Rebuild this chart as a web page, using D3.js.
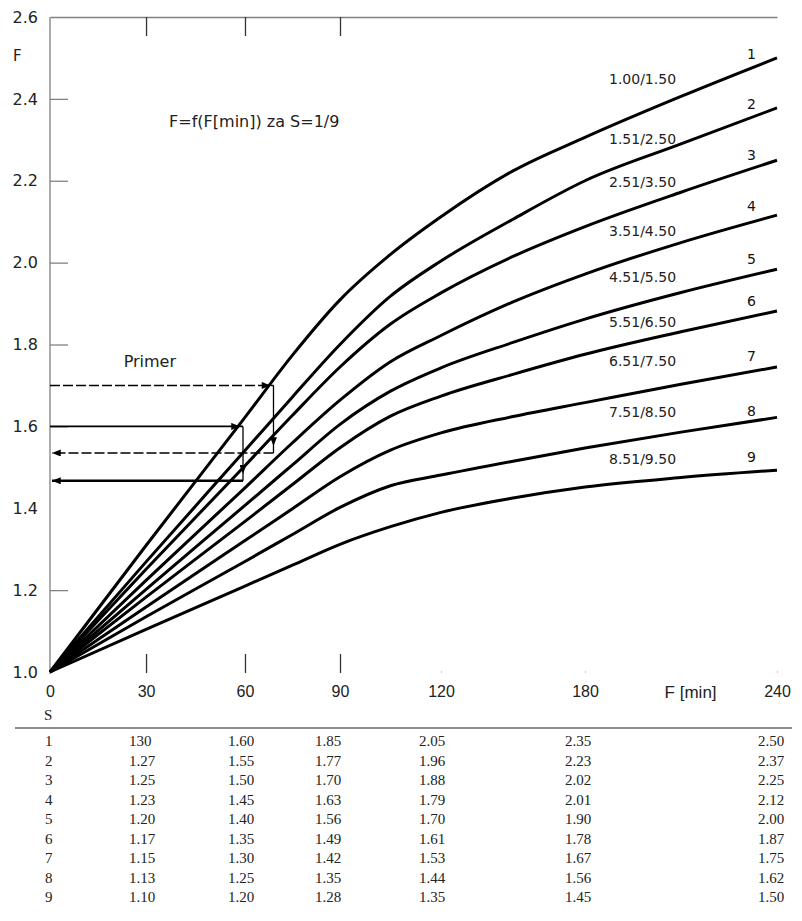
<!DOCTYPE html>
<html><head><meta charset="utf-8">
<script src="https://cdn.jsdelivr.net/npm/d3@7"></script>
<style>
body{margin:0;background:#fff}
svg{display:block}
</style></head><body>
<svg id="chart" width="802" height="921"></svg>
<script>
// ---------- data ----------
const minutes = [0, 30, 60, 75, 90, 105, 120, 150, 180, 210, 240];
const curve1 = [1.000, 1.309, 1.622, 1.774, 1.909, 2.020, 2.112, 2.224, 2.306, 2.406, 2.500];
const curve2 = [1.000, 1.269, 1.541, 1.672, 1.800, 1.918, 2.004, 2.106, 2.200, 2.290, 2.378];
const curve3 = [1.000, 1.251, 1.504, 1.627, 1.745, 1.850, 1.926, 2.015, 2.088, 2.172, 2.250];
const curve4 = [1.000, 1.224, 1.450, 1.560, 1.664, 1.758, 1.822, 1.904, 1.972, 2.049, 2.116];
const curve5 = [1.000, 1.202, 1.407, 1.506, 1.605, 1.686, 1.743, 1.805, 1.862, 1.927, 1.984];
const curve6 = [1.000, 1.183, 1.368, 1.458, 1.548, 1.625, 1.674, 1.727, 1.776, 1.831, 1.882];
const curve7 = [1.000, 1.159, 1.321, 1.399, 1.477, 1.542, 1.584, 1.624, 1.658, 1.703, 1.745];
const curve8 = [1.000, 1.135, 1.270, 1.336, 1.402, 1.455, 1.481, 1.515, 1.547, 1.586, 1.622];
const curve9 = [1.000, 1.104, 1.210, 1.261, 1.312, 1.355, 1.390, 1.425, 1.452, 1.475, 1.493];
const curves = [curve1, curve2, curve3, curve4, curve5, curve6, curve7, curve8, curve9];

const seriesIds = ["1", "2", "3", "4", "5", "6", "7", "8", "9"];
const seriesRanges = ["1.00/1.50", "1.51/2.50", "2.51/3.50", "3.51/4.50", "4.51/5.50",
                      "5.51/6.50", "6.51/7.50", "7.51/8.50", "8.51/9.50"];

const xTickValues = [0, 30, 60, 90, 120, 180, 240];
const xTickMarks = [30, 60, 90];
const xFaintMarks = [120, 180, 240];
const yTickValues = [1.0, 1.2, 1.4, 1.6, 1.8, 2.0, 2.2, 2.4, 2.6];
const yTickMarks = [1.2, 1.6, 1.8, 2.0, 2.2, 2.4];

const titleText = "F=f(F[min]) za S=1/9";
const yAxisTitle = "F";
const xAxisTitle = "F [min]";
const primerText = "Primer";
// Primer example: start F, time (min), resulting F
const primerDashed = [1.70, 69, 1.535];
const primerSolid = [1.60, 59.4, 1.467];

// table
const tableColumns = [30, 60, 90, 120, 180, 240];
const tableHeader = "S";
const tableRows = ["1", "2", "3", "4", "5", "6", "7", "8", "9"];
const table30  = ["130", "1.27", "1.25", "1.23", "1.20", "1.17", "1.15", "1.13", "1.10"];
const table60  = ["1.60", "1.55", "1.50", "1.45", "1.40", "1.35", "1.30", "1.25", "1.20"];
const table90  = ["1.85", "1.77", "1.70", "1.63", "1.56", "1.49", "1.42", "1.35", "1.28"];
const table120 = ["2.05", "1.96", "1.88", "1.79", "1.70", "1.61", "1.53", "1.44", "1.35"];
const table180 = ["2.35", "2.23", "2.02", "2.01", "1.90", "1.78", "1.67", "1.56", "1.45"];
const table240 = ["2.50", "2.37", "2.25", "2.12", "2.00", "1.87", "1.75", "1.62", "1.50"];
const tableValues = [table30, table60, table90, table120, table180, table240];

// ---------- layout ----------
const L = 50, R = 777, T = 17, B = 672;
const xStops = [0, 0.1321, 0.2682, 0.3989, 0.5378, 0.7359, 1];
const x = d3.scaleLinear().domain(xTickValues).range(xStops.map(f => L + f * (R - L)));
const y = d3.scaleLinear().domain([1.0, 2.6]).range([B, T]);

const sans = "'DejaVu Sans', sans-serif";
const sansX = "'Liberation Sans', Arial, sans-serif";
const serif = "'Liberation Serif', 'Times New Roman', serif";
const axisGray = "#808080";

const svg = d3.select("#chart");

// markers
const defs = svg.append("defs");
defs.append("marker").attr("id", "arr").attr("viewBox", "0 0 10 8")
  .attr("refX", 10).attr("refY", 4).attr("markerWidth", 11).attr("markerHeight", 7)
  .attr("markerUnits", "userSpaceOnUse").attr("orient", "auto")
  .append("path").attr("d", "M0,0 L10,4 L0,8 Z").attr("fill", "#000");

// ---------- axes ----------
const yAxis = svg.append("g").attr("transform", `translate(${L},0)`)
  .call(d3.axisLeft(y).tickValues(yTickValues).tickSizeInner(-18).tickSizeOuter(0)
    .tickPadding(12).tickFormat(d3.format(".1f")));
yAxis.select(".domain").attr("stroke", axisGray).attr("stroke-width", 1.3)
  .attr("d", `M0,${T}V${B + 2}`);
yAxis.selectAll(".tick line").attr("stroke", axisGray).attr("stroke-width", 1.3)
  .filter(d => !yTickMarks.some(v => Math.abs(v - d) < 1e-9)).remove();
yAxis.selectAll(".tick text").attr("font-family", sans).attr("font-size", 16).attr("fill", "#222");

const topAxis = svg.append("g").attr("transform", `translate(0,${T})`)
  .call(d3.axisTop(x).tickValues(xTickMarks).tickSizeInner(-19).tickSizeOuter(0).tickFormat(""));
topAxis.select(".domain").attr("stroke", axisGray).attr("stroke-width", 1.3);
topAxis.selectAll(".tick line").attr("stroke", "#333").attr("stroke-width", 1.3);

const botMarks = svg.append("g").attr("transform", `translate(0,${B + 1})`)
  .call(d3.axisBottom(x).tickValues(xTickMarks).tickSizeInner(-19).tickSizeOuter(0).tickFormat(""));
botMarks.select(".domain").remove();
botMarks.selectAll(".tick line").attr("stroke", "#333").attr("stroke-width", 1.3);

const faint = svg.append("g").attr("transform", `translate(0,${B + 1})`)
  .call(d3.axisBottom(x).tickValues(xFaintMarks).tickSizeInner(-2).tickSizeOuter(0).tickFormat(""));
faint.select(".domain").remove();
faint.selectAll(".tick line").attr("stroke", "#c8c8c8").attr("stroke-width", 1);

const botLabels = svg.append("g").attr("transform", `translate(0,${B})`)
  .call(d3.axisBottom(x).tickValues(xTickValues).tickSize(0).tickPadding(14).tickFormat(d3.format("d")));
botLabels.select(".domain").remove();
botLabels.selectAll(".tick text").attr("font-family", sansX).attr("font-size", 16).attr("fill", "#222");

svg.append("text").attr("x", x(213)).attr("y", B + 25.5).attr("text-anchor", "middle")
  .attr("font-family", sansX).attr("font-size", 17).attr("fill", "#222").text(xAxisTitle);

svg.append("text").attr("x", 13).attr("y", y(2.505) + 5).attr("font-family", sans)
  .attr("font-size", 15).attr("fill", "#222").text(yAxisTitle);

svg.append("text").attr("x", x(37)).attr("y", y(2.345) + 6).attr("font-family", sans)
  .attr("font-size", 16).attr("fill", "#222").text(titleText);

// ---------- curves ----------
const line = d3.line().x(d => x(d[0])).y(d => y(d[1])).curve(d3.curveMonotoneX);
svg.append("g").selectAll("path").data(curves).join("path")
  .attr("d", c => line(minutes.map((m, i) => [m, c[i]])))
  .attr("fill", "none").attr("stroke", "#000").attr("stroke-width", 3)
  .attr("stroke-linejoin", "round");

// series labels
const rangeLabelF = [2.448, 2.302, 2.196, 2.077, 1.964, 1.854, 1.760, 1.634, 1.520];
const numLabelF = [2.510, 2.387, 2.262, 2.138, 2.010, 1.906, 1.771, 1.637, 1.525];
svg.append("g").selectAll("text").data(seriesRanges).join("text")
  .attr("x", x(187.5)).attr("y", (d, i) => y(rangeLabelF[i]) + 5)
  .attr("font-family", sans).attr("font-size", 14).attr("fill", "#222").text(d => d);
svg.append("g").selectAll("text").data(seriesIds).join("text")
  .attr("x", x(232)).attr("y", (d, i) => y(numLabelF[i]) + 5).attr("text-anchor", "middle")
  .attr("font-family", sans).attr("font-size", 14).attr("fill", "#111").text(d => d);

// ---------- primer ----------
svg.append("text").attr("x", x(23)).attr("y", y(1.76) + 6).attr("font-family", sans)
  .attr("font-size", 16).attr("fill", "#222").text(primerText);

function primer(p, dash, wTop, wBot) {
  const [f1, t, f2] = p;
  const xs = x(t), y1 = y(f1), y2 = y(f2);
  const g = svg.append("g").attr("fill", "none").attr("stroke", "#000");
  g.append("path").attr("d", `M${L},${y1}H${xs - 3}H${xs}`)
    .attr("stroke-width", wTop).attr("stroke-dasharray", dash).attr("marker-mid", "url(#arr)");
  g.append("path").attr("d", `M${xs},${y1}V${y2 - 7}V${y2}`)
    .attr("stroke-width", 1.3).attr("marker-mid", "url(#arr)");
  g.append("path").attr("d", `M${xs},${y2}H${L + 2}`)
    .attr("stroke-width", wBot).attr("stroke-dasharray", dash).attr("marker-end", "url(#arr)");
}
primer(primerDashed, "10,3", 1.6, 1.6);
primer(primerSolid, null, 1.8, 2.6);

// ---------- table ----------
const colOffset = [-17, -17, -25, -22, -20, -19];
const rowY0 = 741, rowStep = 19.5;
svg.append("text").attr("x", 44).attr("y", 720).attr("font-family", serif)
  .attr("font-size", 15).attr("fill", "#222").text(tableHeader);
svg.append("line").attr("x1", 15).attr("x2", 792).attr("y1", 728).attr("y2", 728)
  .attr("stroke", "#666").attr("stroke-width", 1.3);
const tg = svg.append("g").attr("font-family", serif).attr("font-size", 15).attr("fill", "#222");
tg.selectAll("text.s").data(tableRows).join("text").attr("class", "s")
  .attr("x", 45).attr("y", (d, i) => rowY0 + i * rowStep + 5).text(d => d);
tableColumns.forEach((c, ci) => {
  tg.selectAll(`text.c${c}`).data(tableValues[ci]).join("text").attr("class", `c${c}`)
    .attr("x", x(c) + colOffset[ci]).attr("y", (d, i) => rowY0 + i * rowStep + 5).text(d => d);
});
</script>
</body></html>
